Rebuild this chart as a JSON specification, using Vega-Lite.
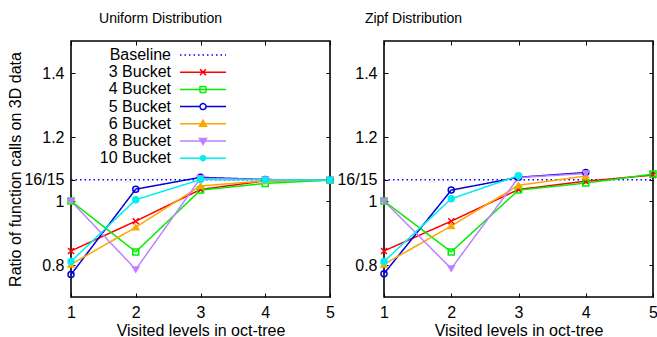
{
  "$schema": "https://vega.github.io/schema/vega-lite/v6.json",
  "background": "white",
  "padding": {"left": 7, "top": 10, "right": 0, "bottom": 0},
  "config": {
    "font": "Liberation Sans",
    "view": {"stroke": "#000000", "strokeWidth": 1.6},
    "axis": {
      "domain": false, "grid": false,
      "labelFont": "Liberation Sans", "labelFontSize": 16, "labelColor": "#000000",
      "tickColor": "#000000", "tickSize": -4, "tickWidth": 1,
      "titleFont": "Liberation Sans", "titleFontSize": 16, "titleFontWeight": "normal", "titleColor": "#000000",
      "labelFlush": false, "labelOverlap": false
    },
    "title": {"font": "Liberation Sans", "fontSize": 14, "fontWeight": "normal", "color": "#000000"}
  },
  "datasets": {
    "uniform": [
      {"series": "Baseline", "level": 1, "ratio": 1.0666666666666667},
      {"series": "Baseline", "level": 5, "ratio": 1.0666666666666667},
      {"series": "3 Bucket", "level": 1, "ratio": 0.844},
      {"series": "3 Bucket", "level": 2, "ratio": 0.937},
      {"series": "3 Bucket", "level": 3, "ratio": 1.036},
      {"series": "3 Bucket", "level": 4, "ratio": 1.063},
      {"series": "3 Bucket", "level": 5, "ratio": 1.065},
      {"series": "4 Bucket", "level": 1, "ratio": 1.0},
      {"series": "4 Bucket", "level": 2, "ratio": 0.841},
      {"series": "4 Bucket", "level": 3, "ratio": 1.034},
      {"series": "4 Bucket", "level": 4, "ratio": 1.055},
      {"series": "4 Bucket", "level": 5, "ratio": 1.065},
      {"series": "5 Bucket", "level": 1, "ratio": 0.77},
      {"series": "5 Bucket", "level": 2, "ratio": 1.037},
      {"series": "5 Bucket", "level": 3, "ratio": 1.074},
      {"series": "5 Bucket", "level": 4, "ratio": 1.067},
      {"series": "5 Bucket", "level": 5, "ratio": 1.065},
      {"series": "6 Bucket", "level": 1, "ratio": 0.802},
      {"series": "6 Bucket", "level": 2, "ratio": 0.918},
      {"series": "6 Bucket", "level": 3, "ratio": 1.047},
      {"series": "6 Bucket", "level": 4, "ratio": 1.063},
      {"series": "6 Bucket", "level": 5, "ratio": 1.065},
      {"series": "8 Bucket", "level": 1, "ratio": 1.0},
      {"series": "8 Bucket", "level": 2, "ratio": 0.786},
      {"series": "8 Bucket", "level": 3, "ratio": 1.071},
      {"series": "8 Bucket", "level": 4, "ratio": 1.067},
      {"series": "8 Bucket", "level": 5, "ratio": 1.065},
      {"series": "10 Bucket", "level": 1, "ratio": 0.811},
      {"series": "10 Bucket", "level": 2, "ratio": 1.004},
      {"series": "10 Bucket", "level": 3, "ratio": 1.067},
      {"series": "10 Bucket", "level": 4, "ratio": 1.066},
      {"series": "10 Bucket", "level": 5, "ratio": 1.065}
    ],
    "zipf": [
      {"series": "Baseline", "level": 1, "ratio": 1.0666666666666667},
      {"series": "Baseline", "level": 5, "ratio": 1.0666666666666667},
      {"series": "3 Bucket", "level": 1, "ratio": 0.844},
      {"series": "3 Bucket", "level": 2, "ratio": 0.937},
      {"series": "3 Bucket", "level": 3, "ratio": 1.036},
      {"series": "3 Bucket", "level": 4, "ratio": 1.062},
      {"series": "3 Bucket", "level": 5, "ratio": 1.081},
      {"series": "4 Bucket", "level": 1, "ratio": 1.0},
      {"series": "4 Bucket", "level": 2, "ratio": 0.841},
      {"series": "4 Bucket", "level": 3, "ratio": 1.034},
      {"series": "4 Bucket", "level": 4, "ratio": 1.056},
      {"series": "4 Bucket", "level": 5, "ratio": 1.084},
      {"series": "5 Bucket", "level": 1, "ratio": 0.773},
      {"series": "5 Bucket", "level": 2, "ratio": 1.034},
      {"series": "5 Bucket", "level": 3, "ratio": 1.074},
      {"series": "5 Bucket", "level": 4, "ratio": 1.089},
      {"series": "6 Bucket", "level": 1, "ratio": 0.802},
      {"series": "6 Bucket", "level": 2, "ratio": 0.922},
      {"series": "6 Bucket", "level": 3, "ratio": 1.049},
      {"series": "6 Bucket", "level": 4, "ratio": 1.078},
      {"series": "8 Bucket", "level": 1, "ratio": 1.0},
      {"series": "8 Bucket", "level": 2, "ratio": 0.789},
      {"series": "8 Bucket", "level": 3, "ratio": 1.073},
      {"series": "8 Bucket", "level": 4, "ratio": 1.086},
      {"series": "10 Bucket", "level": 1, "ratio": 0.811},
      {"series": "10 Bucket", "level": 2, "ratio": 1.007},
      {"series": "10 Bucket", "level": 3, "ratio": 1.079}
    ]
  },
  "spacing": 54,
  "bounds": "flush",
  "resolve": {
    "scale": {"color": "independent", "shape": "independent", "fill": "independent", "strokeDash": "independent"}
  },
  "hconcat": [
    {
      "width": 259, "height": 256,
      "data": {"name": "uniform"},
      "title": {"text": "Uniform Distribution", "anchor": "middle", "dx": -40, "baseline": "alphabetic", "offset": 4},
      "resolve": {"axis": {"x": "independent", "y": "independent"}},
      "layer": [
        {
          "mark": {"type": "line", "strokeWidth": 1.5},
          "encoding": {
            "x": {"field": "level", "type": "quantitative", "scale": {"domain": [1, 5], "nice": false, "zero": false},
                  "axis": {"orient": "bottom", "values": [1, 2, 3, 4, 5], "format": "d", "labelPadding": 11, "title": "Visited levels in oct-tree", "titlePadding": 2}},
            "y": {"field": "ratio", "type": "quantitative", "scale": {"domain": [0.7, 1.5], "nice": false, "zero": false},
                  "axis": {"orient": "left", "values": [0.8, 1, 1.0666666666666667, 1.2, 1.4], "labelPadding": 11,
                           "labelExpr": "abs(datum.value - 16/15) < 0.001 ? '16/15' : datum.value == 1 ? '1' : format(datum.value, '.1f')",
                           "title": "Ratio of function calls on 3D data", "titlePadding": 0}},
            "color": {"field": "series", "type": "nominal",
                      "scale": {"domain": ["Baseline", "3 Bucket", "4 Bucket", "5 Bucket", "6 Bucket", "8 Bucket", "10 Bucket"],
                                "range": ["#0000ff", "#ff0000", "#00ee00", "#0000dd", "#ffa500", "#c080ff", "#00eeee"]},
                      "legend": {
                        "orient": "none", "legendX": 124, "legendY": 6, "title": null,
                        "labelFont": "Liberation Sans", "labelFontSize": 16, "labelColor": "#000000",
                        "labelAlign": "right", "labelOffset": -40, "symbolSize": 4, "symbolOffset": 0,
                        "rowPadding": 1.2, "padding": 0, "labelLimit": 0,
                        "encode": {
                          "symbols": {
                            "update": {
                              "opacity": {"value": 1},
                              "strokeWidth": {"value": 1.5},
                              "shape": {"signal": "datum.value === 'Baseline' ? 'M-23,0H23' : datum.value === '3 Bucket' ? 'M-23,0H23M-3,-3L3,3M-3,3L3,-3' : datum.value === '4 Bucket' ? 'M-23,0H23M-3,-3H3V3H-3Z' : datum.value === '5 Bucket' ? 'M-23,0H-3M3,0H23M3,0A3,3,0,1,1,-3,0A3,3,0,1,1,3,0' : datum.value === '6 Bucket' ? 'M-23,0H23M0,-3.5L3.5,2.5H-3.5Z' : datum.value === '8 Bucket' ? 'M-23,0H23M0,3.5L3.5,-2.5H-3.5Z' : 'M-23,0H23M2.5,0A2.5,2.5,0,1,1,-2.5,0A2.5,2.5,0,1,1,2.5,0'"},
                              "fill": {"signal": "datum.value === '6 Bucket' ? '#ffa500' : datum.value === '8 Bucket' ? '#c080ff' : datum.value === '10 Bucket' ? '#00eeee' : 'transparent'"},
                              "strokeDash": {"signal": "datum.value === 'Baseline' ? [1.5, 3] : [1, 0]"}
                            }
                          }
                        }
                      }},
            "strokeDash": {"field": "series", "type": "nominal",
                           "scale": {"domain": ["Baseline", "3 Bucket", "4 Bucket", "5 Bucket", "6 Bucket", "8 Bucket", "10 Bucket"],
                                     "range": [[1.5, 3], [1, 0], [1, 0], [1, 0], [1, 0], [1, 0], [1, 0]]},
                           "legend": null}
          }
        },
        {
          "transform": [{"filter": "datum.series !== 'Baseline'"}],
          "mark": {"type": "point", "filled": false, "strokeWidth": 1.5, "size": 36, "opacity": 1},
          "encoding": {
            "x": {"field": "level", "type": "quantitative", "scale": {"domain": [1, 5], "nice": false, "zero": false},
                  "axis": {"orient": "top", "values": [1, 2, 3, 4, 5], "labels": false, "title": null}},
            "y": {"field": "ratio", "type": "quantitative", "scale": {"domain": [0.7, 1.5], "nice": false, "zero": false},
                  "axis": {"orient": "right", "values": [0.8, 1, 1.0666666666666667, 1.2, 1.4], "labels": false, "title": null}},
            "color": {"field": "series", "type": "nominal",
                      "scale": {"domain": ["Baseline", "3 Bucket", "4 Bucket", "5 Bucket", "6 Bucket", "8 Bucket", "10 Bucket"],
                                "range": ["#0000ff", "#ff0000", "#00ee00", "#0000dd", "#ffa500", "#c080ff", "#00eeee"]}},
            "shape": {"field": "series", "type": "nominal",
                      "scale": {"domain": ["3 Bucket", "4 Bucket", "5 Bucket", "6 Bucket", "8 Bucket", "10 Bucket"],
                                "range": ["M-1,-1L1,1M-1,1L1,-1", "square", "circle", "triangle-up", "triangle-down", "circle"]},
                      "legend": null},
            "fill": {"field": "series", "type": "nominal",
                     "scale": {"domain": ["3 Bucket", "4 Bucket", "5 Bucket", "6 Bucket", "8 Bucket", "10 Bucket"],
                               "range": ["transparent", "transparent", "transparent", "#ffa500", "#c080ff", "#00eeee"]},
                     "legend": null}
          }
        }
      ]
    },
    {
      "width": 269, "height": 256,
      "data": {"name": "zipf"},
      "title": {"text": "Zipf Distribution", "anchor": "middle", "dx": -105, "baseline": "alphabetic", "offset": 4},
      "resolve": {"axis": {"x": "independent", "y": "independent"}},
      "layer": [
        {
          "mark": {"type": "line", "strokeWidth": 1.5},
          "encoding": {
            "x": {"field": "level", "type": "quantitative", "scale": {"domain": [1, 5], "nice": false, "zero": false},
                  "axis": {"orient": "bottom", "values": [1, 2, 3, 4, 5], "format": "d", "labelPadding": 11, "title": "Visited levels in oct-tree", "titlePadding": 2}},
            "y": {"field": "ratio", "type": "quantitative", "scale": {"domain": [0.7, 1.5], "nice": false, "zero": false},
                  "axis": {"orient": "left", "values": [0.8, 1, 1.0666666666666667, 1.2, 1.4], "labelPadding": 11,
                           "labelExpr": "abs(datum.value - 16/15) < 0.001 ? '16/15' : datum.value == 1 ? '1' : format(datum.value, '.1f')",
                           "title": null}},
            "color": {"field": "series", "type": "nominal",
                      "scale": {"domain": ["Baseline", "3 Bucket", "4 Bucket", "5 Bucket", "6 Bucket", "8 Bucket", "10 Bucket"],
                                "range": ["#0000ff", "#ff0000", "#00ee00", "#0000dd", "#ffa500", "#c080ff", "#00eeee"]},
                      "legend": null},
            "strokeDash": {"field": "series", "type": "nominal",
                           "scale": {"domain": ["Baseline", "3 Bucket", "4 Bucket", "5 Bucket", "6 Bucket", "8 Bucket", "10 Bucket"],
                                     "range": [[1.5, 3], [1, 0], [1, 0], [1, 0], [1, 0], [1, 0], [1, 0]]},
                           "legend": null}
          }
        },
        {
          "transform": [{"filter": "datum.series !== 'Baseline'"}],
          "mark": {"type": "point", "filled": false, "strokeWidth": 1.5, "size": 36, "opacity": 1},
          "encoding": {
            "x": {"field": "level", "type": "quantitative", "scale": {"domain": [1, 5], "nice": false, "zero": false},
                  "axis": {"orient": "top", "values": [1, 2, 3, 4, 5], "labels": false, "title": null}},
            "y": {"field": "ratio", "type": "quantitative", "scale": {"domain": [0.7, 1.5], "nice": false, "zero": false},
                  "axis": {"orient": "right", "values": [0.8, 1, 1.0666666666666667, 1.2, 1.4], "labels": false, "title": null}},
            "color": {"field": "series", "type": "nominal",
                      "scale": {"domain": ["Baseline", "3 Bucket", "4 Bucket", "5 Bucket", "6 Bucket", "8 Bucket", "10 Bucket"],
                                "range": ["#0000ff", "#ff0000", "#00ee00", "#0000dd", "#ffa500", "#c080ff", "#00eeee"]},
                      "legend": null},
            "shape": {"field": "series", "type": "nominal",
                      "scale": {"domain": ["3 Bucket", "4 Bucket", "5 Bucket", "6 Bucket", "8 Bucket", "10 Bucket"],
                                "range": ["M-1,-1L1,1M-1,1L1,-1", "square", "circle", "triangle-up", "triangle-down", "circle"]},
                      "legend": null},
            "fill": {"field": "series", "type": "nominal",
                     "scale": {"domain": ["3 Bucket", "4 Bucket", "5 Bucket", "6 Bucket", "8 Bucket", "10 Bucket"],
                               "range": ["transparent", "transparent", "transparent", "#ffa500", "#c080ff", "#00eeee"]},
                     "legend": null}
          }
        }
      ]
    }
  ]
}
